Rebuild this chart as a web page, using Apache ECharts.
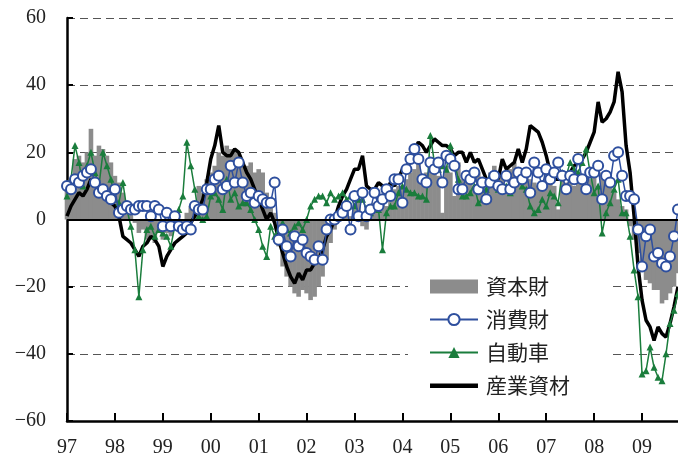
<!DOCTYPE html>
<html><head><meta charset="utf-8">
<script src="https://cdn.jsdelivr.net/npm/echarts@6/dist/echarts.min.js"></script>
<style>html,body{margin:0;padding:0;background:#fff}#c{width:678px;height:464px}</style>
</head><body><div id="c"></div>
<script>
const yearLabels = ['97','98','99','00','01','02','03','04','05','06','07','08','09'];
const seriesNames = ['資本財','消費財','自動車','産業資材'];
const yTicks = {min: -60, max: 60, interval: 20};

// monthly, Jan 1997 .. Oct 2009
const capital = [
 10,12,18,19,17,20,27,19,22,21,19,17,
 13,11,8,5,2,-1,-4,-3,-6,-5,-7,-3,
 -6,-4,-5,-3,-2,-1,2,4,5,10,8,12,
 14,16,20,19,22,21,21,20,17,16,17,14,
 15,14,8,6,2,-8,-14,-17,-20,-22,-23,-21,
 -22,-24,-23,-20,-17,-12,-7,-3,0,2,3,1,
 3,6,-2,-3,4,5,3,6,4,7,9,10,
 10,12,14,15,17,11,14,16,15,13,2,16,
 14,7,17,12,12,13,9,14,10,12,14,16,
 12,13,9,15,17,15,13,14,12,11,10,11,
 14,12,10,3,12,11,13,10,14,11,8,12,
 14,10,14,12,10,8,6,4,3,-2,-6,-10,
 -15,-18,-19,-21,-21,-25,-24,-22,-20,-16
];
const consumer = [
 10,9,12,11,13,14,15,11,8,9,7,6,
 9,2,3,4,3,3,4,4,4,1,4,3,
 -2,2,-2,1,-2,-3,-2,-3,4,3,3,9,
 9,12,13,9,10,16,11,17,11,7,8,5,
 7,6,5,5,11,-6,-3,-8,-11,-5,-8,-6,
 -10,-11,-12,-8,-12,-3,0,0,1,2,4,-3,
 7,1,8,1,3,8,4,6,9,7,12,12,
 5,15,18,21,18,12,11,17,15,17,11,19,
 18,16,9,9,13,12,14,9,11,6,11,13,
 10,9,13,9,11,14,12,14,8,17,14,10,
 15,12,14,17,13,9,13,12,18,12,9,14,
 14,16,6,13,11,19,20,13,7,7,6,-3,
 -14,-5,-3,-11,-10,-13,-14,-11,-5,3
];
const autos = [
 7,12,22,17,10,16,20,14,10,20,16,12,
 6,5,11,3,-2,-9,-23,-9,-3,-2,-5,-3,
 -4,-5,-8,-2,3,7,23,16,9,1,0,1,
 7,8,6,3,12,6,8,4,5,5,3,0,
 -3,-8,-11,-2,-5,-3,-1,-3,-4,-2,-1,-3,
 0,4,6,7,7,5,8,6,7,8,6,7,
 4,6,6,3,2,4,3,-9,2,4,4,8,
 10,9,8,8,7,7,6,25,17,15,16,15,
 22,17,12,7,7,8,10,5,6,9,13,11,
 9,10,10,8,11,12,10,9,4,2,3,6,
 4,8,7,5,14,13,17,15,14,17,21,14,
 8,10,-4,2,5,9,12,2,2,-5,-15,-23,
 -46,-45,-38,-44,-47,-48,-40,-31,-27,-22
];
const materials = [
 1,4,6,8,7,9,12,10,9,7,6,5,
 4,1,-5,-6,-7,-9,-11,-8,-7,-5,-6,-8,
 -14,-11,-9,-7,-6,-5,-4,-1,1,3,6,11,
 18,22,28,20,19,19,21,20,17,14,12,9,
 6,3,0,2,-1,-6,-10,-14,-17,-19,-16,-18,
 -15,-15,-13,-12,-9,-5,-3,0,4,7,9,12,
 15,15,19,10,9,9,11,10,9,11,10,12,
 15,16,17,21,23,22,20,22,24,23,22,22,
 21,19,20,20,17,20,17,18,15,12,12,14,
 12,18,15,16,17,21,17,21,28,27,26,23,
 19,14,12,12,12,13,14,16,17,18,20,23,
 26,35,29,30,32,35,44,38,22,14,1,-14,
 -24,-30,-32,-36,-32,-34,-35,-31,-26,-20
];

const months = [];
for (let i = 0; i < capital.length; i++) {
  months.push((1997 + Math.floor(i / 12)) + '-' + String(i % 12 + 1).padStart(2, '0'));
}

const serif = "'Liberation Serif', 'DejaVu Serif', serif";
const thickLineIcon = 'path://M0,5h48v4.5h-48zM0,0h0.01v0.01h-0.01zM0,14h0.01v0.01h-0.01z';
const chart = echarts.init(document.getElementById('c'), null, {renderer: 'canvas'});
chart.setOption({
  animation: false,
  backgroundColor: '#fff',
  grid: {left: 67, right: 0, top: 18, bottom: 43, containLabel: false},
  xAxis: {
    type: 'category', data: months, boundaryGap: false,
    axisLine: {onZero: false, lineStyle: {color: '#000', width: 2.5}},
    axisTick: {inside: true, length: 8, interval: (i) => i % 12 === 0, lineStyle: {color: '#000', width: 2}},
    axisLabel: {interval: (i) => i % 12 === 0, formatter: (v, i) => yearLabels[Math.floor(i / 12)],
      fontFamily: serif, fontSize: 20, color: '#222', margin: 17},
    splitLine: {show: false}
  },
  yAxis: {
    type: 'value', min: yTicks.min, max: yTicks.max, interval: yTicks.interval,
    axisLine: {show: true, lineStyle: {color: '#000', width: 2.5}},
    axisTick: {show: true, inside: true, length: 6, lineStyle: {color: '#000', width: 2}},
    axisLabel: {fontFamily: serif, fontSize: 20, color: '#222', margin: 21,
      formatter: (v) => String(v).replace('-', '\u2212')},
    splitLine: {show: true, lineStyle: {color: '#555', width: 1, type: [8, 5]}}
  },
  legend: {
    orient: 'vertical', left: 408, top: 266,
    padding: [10, 40, 12, 21],
    backgroundColor: '#fff',
    itemWidth: 48, itemHeight: 14, itemGap: 12,
    textStyle: {fontFamily: "'Noto Sans CJK JP', sans-serif", fontSize: 21, color: '#222', padding: [0, 0, 0, 3]},
    data: [
      {name: seriesNames[0], icon: 'rect'},
      seriesNames[1], seriesNames[2],
      {name: seriesNames[3], icon: thickLineIcon, itemStyle: {color: '#000'}}
    ]
  },
  series: [
    {name: seriesNames[0], type: 'bar', data: capital, barWidth: 4.6, z: 1,
      itemStyle: {color: '#8c8c8c'},
      markLine: {silent: true, symbol: 'none', label: {show: false},
        lineStyle: {color: '#000', width: 2, type: 'solid'}, data: [{yAxis: 0}]}},
    {name: seriesNames[3], type: 'line', data: materials, z: 2, showSymbol: false, symbol: 'none',
      lineStyle: {color: '#000', width: 3.5}, itemStyle: {color: '#000'}},
    {name: seriesNames[2], type: 'line', data: autos, z: 3, symbol: 'triangle', symbolSize: 7,
      showSymbol: true, showAllSymbol: true,
      lineStyle: {color: '#1a7d3c', width: 1.5}, itemStyle: {color: '#1a7d3c'}},
    {name: seriesNames[1], type: 'line', data: consumer, z: 4, symbol: 'circle', symbolSize: 10,
      showSymbol: true, showAllSymbol: true,
      lineStyle: {color: '#2e4f9e', width: 1.5},
      itemStyle: {color: '#fff', borderColor: '#2e4f9e', borderWidth: 2}}
  ]
});
</script></body></html>
